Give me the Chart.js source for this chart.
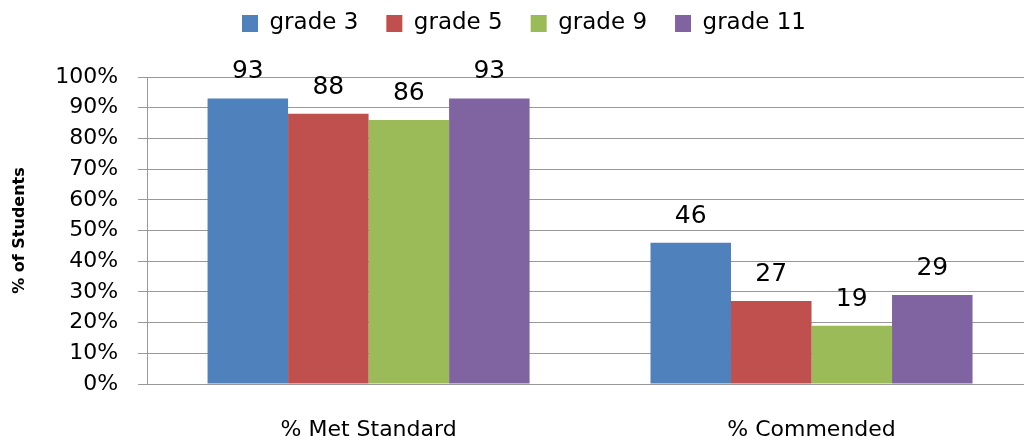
<!DOCTYPE html>
<html>
<head>
<meta charset="utf-8">
<script src="https://cdn.jsdelivr.net/npm/chart.js@4"></script>
<style>
  html, body { margin: 0; padding: 0; background: #fff; }
  #wrap { width: 1024px; height: 440px; }
</style>
</head>
<body>
<div id="wrap"><canvas id="chart"></canvas></div>
<script>
const categories = ['% Met Standard', '% Commended'];
const seriesNames = ['grade 3', 'grade 5', 'grade 9', 'grade 11'];
const grade3 = [93, 46];
const grade5 = [88, 27];
const grade9 = [86, 19];
const grade11 = [93, 29];
const colors = ['#4f81bd', '#c0504d', '#9bbb59', '#8064a2'];

const FONT = "'DejaVu Sans', sans-serif";

// draws the value over each bar
const barLabels = {
    id: 'barLabels',
    afterDatasetsDraw(chart) {
        const ctx = chart.ctx;
        ctx.save();
        ctx.font = '25px ' + FONT;
        ctx.fillStyle = '#000';
        ctx.textAlign = 'center';
        ctx.textBaseline = 'alphabetic';
        chart.data.datasets.forEach((ds, i) => {
            chart.getDatasetMeta(i).data.forEach((bar, j) => {
                ctx.fillText(ds.data[j], bar.x, bar.y - 20);
            });
        });
        ctx.restore();
    }
};

// legend: fixed block height, items drawn a bit higher than the wide padding puts them
const legendFix = {
    id: 'legendFix',
    beforeInit(chart) {
        const legend = chart.legend;
        const fit = legend.fit;
        legend.fit = function () {
            fit.call(this);
            this.height = 77;
        };
        const draw = legend.draw;
        legend.draw = function () {
            this.top -= 16;
            this.left += 7;
            this.right += 7;
            draw.call(this);
            this.top += 16;
            this.left -= 7;
            this.right -= 7;
        };
    }
};

// the original plot runs a little past the right edge of the picture
const widenX = {
    id: 'widenX',
    afterLayout(chart) {
        const x = chart.scales.x;
        x.right += 9;
        x.width += 9;
        x.configure();
    }
};

const series = [grade3, grade5, grade9, grade11];

new Chart(document.getElementById('chart').getContext('2d'), {
    type: 'bar',
    data: {
        labels: categories,
        datasets: series.map((data, i) => ({
            label: seriesNames[i],
            data: data,
            backgroundColor: colors[i],
            borderWidth: 0,
            barPercentage: 1,
            categoryPercentage: 0.727
        }))
    },
    options: {
        responsive: true,
        maintainAspectRatio: false,
        animation: false,
        layout: { padding: { left: 10, right: 0, top: 0, bottom: 0 } },
        plugins: {
            legend: {
                position: 'top',
                labels: {
                    font: { family: FONT, size: 23 },
                    color: '#000',
                    boxWidth: 16,
                    boxHeight: 17,
                    padding: 28
                }
            },
            tooltip: { enabled: false }
        },
        scales: {
            x: {
                grid: { display: false },
                border: { color: '#999', width: 1 },
                ticks: { font: { family: FONT, size: 22 }, color: '#000', padding: 25 },
                afterFit(scale) { scale.height = 56; }
            },
            y: {
                min: 0,
                max: 100,
                grid: { color: '#999', tickLength: 9, lineWidth: 1 },
                border: { color: '#999', width: 1 },
                ticks: {
                    stepSize: 10,
                    autoSkip: false,
                    font: { family: FONT, size: 22 },
                    color: '#000',
                    padding: 20,
                    callback: v => v + '%'
                },
                title: {
                    display: true,
                    text: '% of Students',
                    font: { family: FONT, size: 16, weight: 'bold' },
                    color: '#000',
                    padding: { top: 0, bottom: 6 }
                }
            }
        }
    },
    plugins: [barLabels, legendFix, widenX]
});
</script>
</body>
</html>
